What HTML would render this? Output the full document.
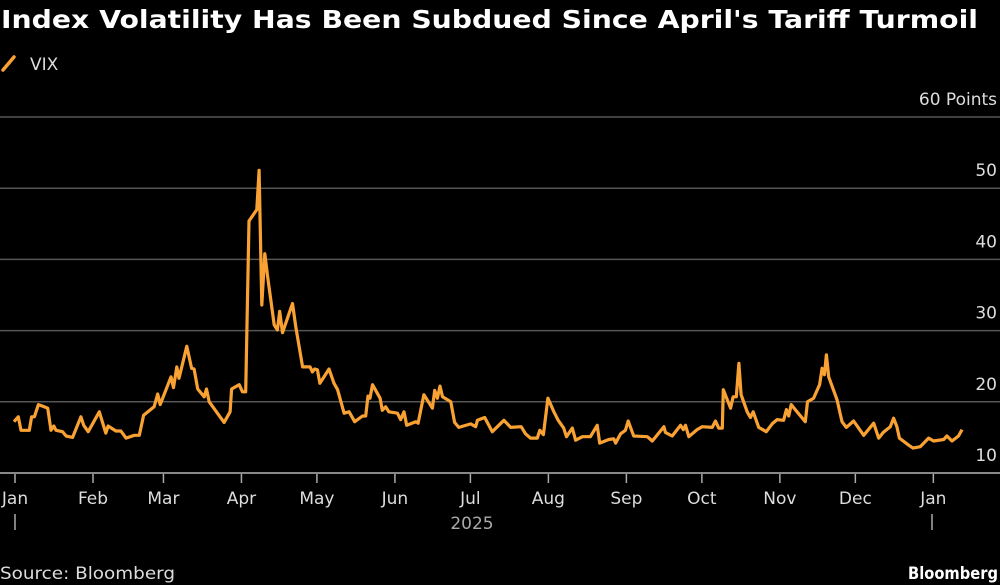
<!DOCTYPE html>
<html><head><meta charset="utf-8"><style>
html,body{margin:0;padding:0;background:#000;}
svg{display:block;font-family:"DejaVu Sans","Liberation Sans",sans-serif;}
</style></head><body>
<svg id="chart" width="1000" height="585" viewBox="0 0 1000 585" xmlns="http://www.w3.org/2000/svg">
<rect width="1000" height="585" fill="#000"/>
<text x="1" y="28" fill="#fff" font-size="25" font-weight="bold" font-family="DejaVu Sans, sans-serif" textLength="977" lengthAdjust="spacingAndGlyphs">Index Volatility Has Been Subdued Since April's Tariff Turmoil</text>
<g>
<line x1="3" y1="70" x2="14" y2="57" stroke="#f9a233" stroke-width="3.5" stroke-linecap="round"/>
<text x="30" y="70" fill="#ddd" font-size="17">VIX</text>
</g>
<g id="grid"></g>
<g id="xaxis"></g>
<path id="line" fill="none" stroke="#f9a233" stroke-width="3.2" stroke-linejoin="round"/>
<text x="472" y="529" fill="#aaa" font-size="17" text-anchor="middle">2025</text>
<line x1="15" y1="514" x2="15" y2="530" stroke="#aaa" stroke-width="1.5"/>
<line x1="932" y1="514" x2="932" y2="530" stroke="#aaa" stroke-width="1.5"/>
<text x="0" y="579" fill="#ddd" font-size="17" textLength="175" lengthAdjust="spacingAndGlyphs">Source: Bloomberg</text>
<text x="998" y="579" fill="#fff" font-size="17" font-weight="bold" text-anchor="end" textLength="90" lengthAdjust="spacingAndGlyphs">Bloomberg</text>
</svg>
<script>
const yTicks=[10,20,30,40,50,60];
const yTickLabels=["10","20","30","40","50","60 Points"];
const monthLabels=["Jan","Feb","Mar","Apr","May","Jun","Jul","Aug","Sep","Oct","Nov","Dec","Jan"];
const monthDays=[0,31,59,90,120,151,181,212,243,273,304,334,365];
const days=[0,1.7,2.8,6.1,7,8.1,9.7,12,13.4,14.7,15.8,16.7,19.3,20.7,23.3,26.6,27.7,29.5,33.9,36.5,37.4,40.5,42.5,44.5,47.8,49.8,51.5,55.7,57.1,58.1,62.4,63.4,64.7,65.6,68.7,70.6,71.6,73,75.6,76.5,77.6,83.5,85.9,86.5,89.5,90.8,92.1,93.4,96.5,97.4,98.5,99.7,100.8,103.4,104.7,105.6,106.7,110.7,112,114.7,116.6,117.7,118.6,119.5,120.6,121.6,125.2,127.2,128.6,131.2,133.2,135.4,138.5,139.8,140.7,141.5,142.5,145.5,146.4,147.7,149,152.4,153.7,155,156.1,159.7,160.6,162.9,166.3,167.2,168.3,169.3,170.3,173.6,175.1,176.8,181.5,183.5,184.2,187.1,190.1,194.7,197.4,201.6,203.3,205.3,208,209,210.4,212.2,214.6,216.3,218.5,219.6,221.9,223.2,225.9,229.1,231.8,232.8,236.4,238.4,239.1,241.1,243,244.1,246.3,251.7,253.7,258.3,258.9,261.6,264.9,266,266.9,268.2,271.5,273.5,277.5,278.8,280.1,281.5,281.9,284.8,285.8,287.1,288.1,289,291.4,292.7,293.8,296,299,301.3,303.3,305.9,307,307.9,308.9,311.2,314.5,315.4,317.8,320.2,321.2,322.1,322.9,323.8,327.1,329.1,330.8,333.7,337.7,341.7,343.7,345.5,348.3,349.6,350.9,351.9,355.6,357.3,360.2,363.5,365.5,369.5,370.8,372.8,375.4,376.8];
const vix=[17.2,17.9,16,16,17.9,17.9,19.6,19.3,19.1,16,16.6,16,15.8,15.2,15,17.9,16.7,15.8,18.6,15.6,16.6,15.9,15.9,14.9,15.3,15.3,18.1,19.3,21.1,19.6,23.5,22,24.9,23.3,27.8,24.7,24.6,21.8,20.7,21.8,20,17.1,18.6,21.8,22.4,21.4,21.4,45.4,47,52.5,33.6,40.8,37.6,30.8,30.1,32.7,29.7,33.8,30.5,24.9,24.9,24.9,24.2,24.6,24.5,22.6,24.6,22.6,21.7,18.4,18.6,17.2,18,18,20.8,20.5,22.4,20.5,18.8,19.3,18.6,18.4,17.5,18.6,16.7,17.2,17,21,19.1,21.6,20.5,22.2,20.7,20,17.1,16.4,16.9,16.5,17.4,17.8,15.8,17.4,16.4,16.5,15.5,14.9,14.9,16,15.4,20.5,18.6,17.4,16.3,15.1,16.3,14.6,15.1,15.1,16.7,14.2,14.7,14.8,14.2,15.5,16,17.3,15.2,15.1,14.5,16.5,15.7,15.2,16.7,16.1,16.7,15.1,16.1,16.5,16.4,17.3,16.3,16.3,21.7,19.1,20.7,20.7,25.4,21,18.6,17.8,18.6,16.4,15.8,16.9,17.5,17.4,18.9,18,19.6,18.6,17.2,20,20.5,22.4,24.7,23.8,26.6,23.5,20.3,17.2,16.4,17.3,15.3,17,14.9,15.7,16.5,17.7,16.5,14.9,13.9,13.5,13.7,14.9,14.5,14.7,15.2,14.5,15.2,16.1];
const NS="http://www.w3.org/2000/svg";
function xScale(d){return 14+d*2.516;}
function yScale(v){return 473-(v-10)*7.12;}
const grid=document.getElementById('grid');
yTicks.forEach((t,i)=>{
  const l=document.createElementNS(NS,'line');
  
  
  l.setAttribute('x1',0);l.setAttribute('x2',1000);
  l.setAttribute('y1',yScale(t));l.setAttribute('y2',yScale(t));
  l.setAttribute('stroke',i===0?'#888':'#555');l.setAttribute('stroke-width',i===0?2:1.5);
  grid.appendChild(l);
  const tx=document.createElementNS(NS,'text');
  
  
  tx.setAttribute('x',997);tx.setAttribute('y',yScale(t)-12);
  tx.setAttribute('text-anchor','end');tx.setAttribute('fill','#ddd');tx.setAttribute('font-size','17');
  tx.textContent=yTickLabels[i];
  grid.appendChild(tx);
});
const xa=document.getElementById('xaxis');
monthDays.forEach((d,i)=>{
  const x=xScale(d)+1;
  const l=document.createElementNS(NS,'line');
  
  
  l.setAttribute('x1',x);l.setAttribute('x2',x);l.setAttribute('y1',474);l.setAttribute('y2',483);
  l.setAttribute('stroke','#aaa');l.setAttribute('stroke-width',1.5);
  xa.appendChild(l);
  const tx=document.createElementNS(NS,'text');
  
  
  tx.setAttribute('x',x);tx.setAttribute('y',504);
  tx.setAttribute('text-anchor','middle');tx.setAttribute('fill','#ddd');tx.setAttribute('font-size','17');
  tx.textContent=monthLabels[i];
  xa.appendChild(tx);
});
let dstr='';
days.forEach((d,i)=>{dstr+=(i?'L':'M')+xScale(d).toFixed(1)+' '+yScale(vix[i]).toFixed(1);});
document.getElementById('line').setAttribute('d',dstr);
</script>
</body></html>
